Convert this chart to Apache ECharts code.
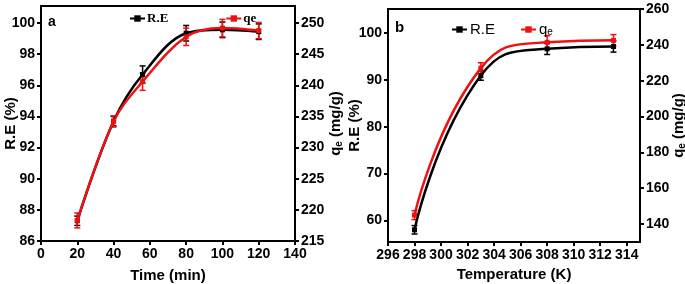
<!DOCTYPE html>
<html>
<head>
<meta charset="utf-8">
<script src="https://cdn.jsdelivr.net/npm/echarts@6/dist/echarts.min.js"></script>
<style>
  html, body { margin: 0; padding: 0; background: #fff; }
  #chart { width: 685px; height: 284px; }
</style>
</head>
<body>
<div id="chart"></div>
<script>
  // panel a - contact time
  var timeMin = [20, 40, 56, 80, 100, 120]
  var reTime = [87.3, 93.7, 96.7, 99.35, 99.57, 99.45]
  var reTimeErr = [0.3, 0.3, 0.55, 0.5, 0.5, 0.5]
  var qeTime = [218.3, 234.2, 240.6, 247.8, 249.2, 248.8]
  var qeTimeErr = [1.2, 0.9, 1.4, 1.4, 1.4, 1.3]
  var timeTicks = [0, 20, 40, 60, 80, 100, 120, 140]
  var reTimeTicks = [86, 88, 90, 92, 94, 96, 98, 100]
  var qeTimeTicks = [215, 220, 225, 230, 235, 240, 245, 250]

  // panel b - temperature
  var tempK = [298, 303, 308, 313]
  var reTemp = [58.0, 90.9, 96.6, 97.1]
  var reTempErr = [0.9, 1.0, 1.2, 1.2]
  var qeTemp = [145.0, 227.0, 241.4, 242.5]
  var qeTempErr = [2.5, 3.0, 3.7, 3.2]
  var tempTicks = [296, 298, 300, 302, 304, 306, 308, 310, 312, 314]
  var reTempTicks = [60, 70, 80, 90, 100]
  var qeTempTicks = [140, 160, 180, 200, 220, 240, 260]

  var myChart = echarts.init(document.getElementById('chart'))

  var lblStyle = {
    color: '#000',
    fontFamily: 'Liberation Sans',
    fontWeight: 'bold',
    fontSize: 14
  }
  var nameStyle = {
    color: '#000',
    fontFamily: 'Liberation Sans',
    fontWeight: 'bold',
    fontSize: 15
  }
  var qeRich = {
    q: { fontFamily: 'Liberation Sans', fontWeight: 'bold', fontSize: 15, color: '#000' },
    e: { fontFamily: 'Liberation Sans', fontWeight: 'bold', fontSize: 10, color: '#000', verticalAlign: 'bottom', padding: [6, 0, 0, 0] }
  }

  // 数值轴，刻度用 customValues 固定
  function valAxis(opt) {
    return Object.assign({
      type: 'value',
      nameLocation: 'middle',
      nameMoveOverlap: false,
      nameTextStyle: nameStyle,
      axisLine: { show: true, lineStyle: { color: '#000', width: 2 } },
      axisTick: { show: true, inside: false, length: 4, lineStyle: { color: '#000', width: 2 } },
      splitLine: { show: false },
      axisLabel: Object.assign({ margin: 6 }, lblStyle)
    }, opt)
  }

  function withTicks(ax, ticks) {
    ax.axisLabel.customValues = ticks
    ax.axisTick.customValues = ticks
    return ax
  }

  function errBar(xIdx, yIdx, xs, ys, errs, color) {
    var data = xs.map(function (x, i) {
      return [x, ys[i] - errs[i], ys[i] + errs[i]]
    })
    return {
      type: 'custom',
      xAxisIndex: xIdx,
      yAxisIndex: yIdx,
      silent: true,
      z: 3,
      data: data,
      renderItem: function (params, api) {
        var lo = api.coord([api.value(0), api.value(1)])
        var hi = api.coord([api.value(0), api.value(2)])
        var w = 3
        var st = { stroke: color, lineWidth: 1.5 }
        return {
          type: 'group',
          children: [
            { type: 'line', shape: { x1: lo[0], y1: lo[1], x2: hi[0], y2: hi[1] }, style: st },
            { type: 'line', shape: { x1: lo[0] - w, y1: lo[1], x2: lo[0] + w, y2: lo[1] }, style: st },
            { type: 'line', shape: { x1: hi[0] - w, y1: hi[1], x2: hi[0] + w, y2: hi[1] }, style: st }
          ]
        }
      }
    }
  }

  function lineSeries(name, xIdx, yIdx, xs, ys, color, z, sm) {
    return {
      name: name,
      type: 'line',
      xAxisIndex: xIdx,
      yAxisIndex: yIdx,
      smooth: sm,
      symbol: 'rect',
      symbolSize: 5,
      z: z,
      lineStyle: { color: color, width: 2.5 },
      itemStyle: { color: color },
      data: xs.map(function (x, i) { return [x, ys[i]] })
    }
  }

  var xA = withTicks(valAxis({
    gridIndex: 0, min: 0, max: 140,
    name: 'Time (min)', nameGap: 27
  }), timeTicks)
  var xB = withTicks(valAxis({
    gridIndex: 1, min: 296, max: 315,
    name: 'Temperature (K)', nameGap: 25
  }), tempTicks)

  var yA1 = withTicks(valAxis({
    gridIndex: 0, min: 86, max: 101.1, position: 'left',
    name: 'R.E (%)', nameGap: 23
  }), reTimeTicks)
  var yA2 = withTicks(valAxis({
    gridIndex: 0, min: 215, max: 252.75, position: 'right',
    name: '{q|q}{e|e} (mg/g)', nameGap: 33, nameRotate: 90,
    nameTextStyle: Object.assign({ rich: qeRich }, nameStyle)
  }), qeTimeTicks)
  var yB1 = withTicks(valAxis({
    gridIndex: 1, min: 55.4, max: 105.1, position: 'left',
    name: 'R.E (%)', nameGap: 26
  }), reTempTicks)
  var yB2 = withTicks(valAxis({
    gridIndex: 1, min: 130, max: 260, position: 'right',
    name: '{q|q}{e|e} (mg/g)', nameGap: 31, nameRotate: 90,
    nameTextStyle: Object.assign({ rich: qeRich }, nameStyle)
  }), qeTempTicks)

  var option = {
    backgroundColor: '#fff',
    animation: false,
    grid: [
      { left: 41, right: 390, top: 6, bottom: 43, show: true, borderColor: '#000', borderWidth: 2, containLabel: false, outerBoundsMode: 'none' },
      { left: 388, right: 45, top: 9, bottom: 42, show: true, borderColor: '#000', borderWidth: 2, containLabel: false, outerBoundsMode: 'none' }
    ],
    title: [
      { text: 'a', left: 43, top: 10, textStyle: { fontFamily: 'Liberation Sans', fontWeight: 'bold', fontSize: 14, color: '#000' } },
      { text: 'b', left: 390, top: 15, textStyle: { fontFamily: 'Liberation Sans', fontWeight: 'bold', fontSize: 15, color: '#000' } }
    ],
    legend: [
      {
        data: ['R.E a', 'qe a'],
        left: 124, top: 7,
        itemWidth: 15, itemHeight: 8, itemGap: 57,
        selectedMode: false,
        formatter: function (name) { return name.replace(' a', '') },
        textStyle: { fontFamily: 'Liberation Serif', fontWeight: 'bold', fontSize: 13, color: '#000', padding: [0, 0, 0, -3] }
      },
      {
        data: ['R.E b', 'qe b'],
        left: 446, top: 17,
        itemWidth: 15, itemHeight: 8, itemGap: 25,
        selectedMode: false,
        formatter: function (name) {
          return name === 'qe b' ? '{q|q}{e|e}' : 'R.E'
        },
        textStyle: {
          fontFamily: 'Liberation Sans', fontSize: 15, color: '#000', padding: [0, 0, 0, -2],
          rich: {
            q: { fontFamily: 'Liberation Sans', fontSize: 15, color: '#000' },
            e: { fontFamily: 'Liberation Sans', fontSize: 10, color: '#000', verticalAlign: 'bottom', padding: [6, 0, 0, 0] }
          }
        }
      }
    ],
    xAxis: [xA, xB],
    yAxis: [yA1, yA2, yB1, yB2],
    series: [
      lineSeries('R.E a', 0, 0, timeMin, reTime, '#000', 4, 0.35),
      lineSeries('qe a', 0, 1, timeMin, qeTime, '#ee1111', 5, 0.35),
      errBar(0, 0, timeMin, reTime, reTimeErr, '#000'),
      errBar(0, 1, timeMin, qeTime, qeTimeErr, '#ee1111'),
      lineSeries('R.E b', 1, 2, tempK, reTemp, '#000', 4, 0.5),
      lineSeries('qe b', 1, 3, tempK, qeTemp, '#ee1111', 5, 0.5),
      errBar(1, 2, tempK, reTemp, reTempErr, '#000'),
      errBar(1, 3, tempK, qeTemp, qeTempErr, '#ee1111')
    ]
  }

  myChart.setOption(option)
</script>
</body>
</html>
